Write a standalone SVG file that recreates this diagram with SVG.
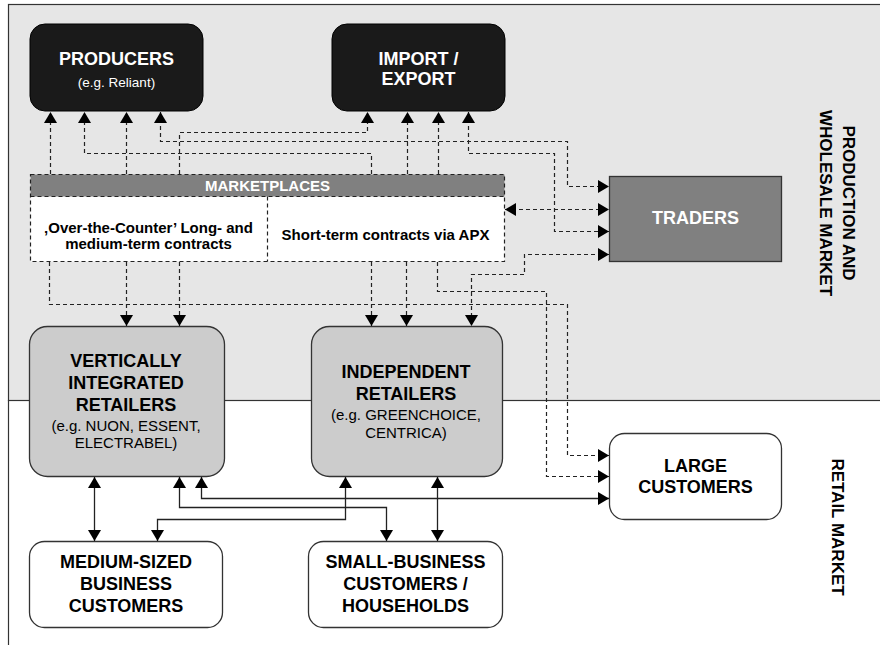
<svg xmlns="http://www.w3.org/2000/svg" width="880" height="645" viewBox="0 0 880 645">
<defs>
<marker id="ah" markerUnits="userSpaceOnUse" markerWidth="12" markerHeight="14" refX="11" refY="6.5" orient="auto-start-reverse">
<path d="M0,0 L11,6.5 L0,13 z" fill="#000"/>
</marker>
</defs>
<style>
text{font-family:"Liberation Sans",Arial,sans-serif;text-anchor:middle;fill:#000}
.t{font-size:18px;font-weight:bold}
.s{font-size:15px}
.w{fill:#fff}
.m{font-size:15px;font-weight:bold}
.v{font-size:17px;font-weight:bold}
.dash{fill:none;stroke:#222;stroke-width:1.2;stroke-dasharray:4,3}
.sol{fill:none;stroke:#222;stroke-width:1.3}
.bx{stroke:#333;stroke-width:1.3}
</style>
<rect x="0" y="0" width="880" height="645" fill="#fff"/>
<g id="background">
<rect x="8.5" y="4.5" width="880" height="396" fill="#e6e6e6" stroke="#333" stroke-width="1.2"/>
<line x1="8.5" y1="400" x2="8.5" y2="645" stroke="#333" stroke-width="1.2"/>
</g>
<g id="labels">
<text class="v" transform="translate(843,203) rotate(90)">PRODUCTION AND</text>
<text class="v" transform="translate(820,203) rotate(90)">WHOLESALE MARKET</text>
<text class="v" transform="translate(832,527) rotate(90)">RETAIL MARKET</text>
</g>
<g id="producers">
<rect x="30" y="24" width="173" height="87" rx="15" fill="#1a1a1a" stroke="#000"/>
<text class="t w" x="116.5" y="65">PRODUCERS</text>
<text class="w" x="116.5" y="87" font-size="13.5">(e.g. Reliant)</text>
</g>
<g id="import-export">
<rect x="332" y="24" width="173" height="87" rx="15" fill="#1a1a1a" stroke="#000"/>
<text class="t w" x="418.5" y="65">IMPORT /</text>
<text class="t w" x="418.5" y="85">EXPORT</text>
</g>
<g id="marketplaces">
<rect x="30.5" y="174.5" width="474" height="87" fill="#fff"/>
<rect x="30.5" y="174.5" width="474" height="22" fill="#808080"/>
<rect x="30.5" y="174.5" width="474" height="87" class="dash"/>
<line x1="30.5" y1="196.5" x2="504.5" y2="196.5" class="dash"/>
<line x1="267.5" y1="196.5" x2="267.5" y2="261.5" class="dash"/>
<text class="w" x="267.5" y="191" font-size="15" font-weight="bold">MARKETPLACES</text>
<text class="m" x="148.5" y="233">‚Over-the-Counter’ Long- and</text>
<text class="m" x="148.5" y="249">medium-term contracts</text>
<text class="m" x="385.5" y="240">Short-term contracts via APX</text>
</g>
<g id="traders">
<rect x="609.5" y="176.5" width="172" height="85" fill="#808080" stroke="#333" stroke-width="1.3"/>
<text class="t w" x="695.5" y="224">TRADERS</text>
</g>
<g id="vertically-integrated">
<rect x="29.5" y="326.5" width="195" height="150" rx="18" fill="#ccc" class="bx"/>
<text class="t" x="126" y="367">VERTICALLY</text>
<text class="t" x="126" y="389">INTEGRATED</text>
<text class="t" x="126" y="411">RETAILERS</text>
<text class="s" x="126" y="430.5">(e.g. NUON, ESSENT,</text>
<text class="s" x="126" y="448">ELECTRABEL)</text>
</g>
<g id="independent">
<rect x="311.5" y="326.5" width="191" height="150" rx="18" fill="#ccc" class="bx"/>
<text class="t" x="406" y="378">INDEPENDENT</text>
<text class="t" x="406" y="400">RETAILERS</text>
<text class="s" x="406" y="420">(e.g. GREENCHOICE,</text>
<text class="s" x="406" y="437.5">CENTRICA)</text>
</g>
<g id="large-customers">
<rect x="609.5" y="433.5" width="172" height="86" rx="15" fill="#fff" class="bx"/>
<text class="t" x="695.5" y="471.5">LARGE</text>
<text class="t" x="695.5" y="493">CUSTOMERS</text>
</g>
<g id="medium-business">
<rect x="29.5" y="541.5" width="193" height="86" rx="15" fill="#fff" class="bx"/>
<text class="t" x="126" y="568">MEDIUM-SIZED</text>
<text class="t" x="126" y="590">BUSINESS</text>
<text class="t" x="126" y="612">CUSTOMERS</text>
</g>
<g id="small-business">
<rect x="308.5" y="541.5" width="194" height="86" rx="15" fill="#fff" class="bx"/>
<text class="t" x="405.5" y="568">SMALL-BUSINESS</text>
<text class="t" x="405.5" y="590">CUSTOMERS /</text>
<text class="t" x="405.5" y="612">HOUSEHOLDS</text>
</g>
<g id="connectors">
<path class="dash" d="M50.5,174 V112" marker-end="url(#ah)"/>
<path class="dash" d="M126.5,174 V112" marker-end="url(#ah)"/>
<path class="dash" d="M371.5,174 V153.5 H84.5 V112" marker-end="url(#ah)"/>
<path class="dash" d="M160.5,112 V141.5 H567.5 V186.5 H609" marker-start="url(#ah)" marker-end="url(#ah)"/>
<path class="dash" d="M179.5,174 V132.5 H367.5 V112" marker-end="url(#ah)"/>
<path class="dash" d="M407.5,174 V112" marker-end="url(#ah)"/>
<path class="dash" d="M438.5,174 V112" marker-end="url(#ah)"/>
<path class="dash" d="M468.5,112 V153.5 H554.5 V231.5 H609" marker-start="url(#ah)" marker-end="url(#ah)"/>
<path class="dash" d="M505,209.5 H609" marker-start="url(#ah)" marker-end="url(#ah)"/>
<path class="dash" d="M609,254.5 H524.5 V274.5 H471.5 V326" marker-start="url(#ah)" marker-end="url(#ah)"/>
<path class="dash" d="M126.5,262 V326" marker-end="url(#ah)"/>
<path class="dash" d="M179.5,262 V326" marker-end="url(#ah)"/>
<path class="dash" d="M371.5,262 V326" marker-end="url(#ah)"/>
<path class="dash" d="M406.5,262 V326" marker-end="url(#ah)"/>
<path class="dash" d="M49.5,262 V304.5 H567.5 V455.5 H609" marker-end="url(#ah)"/>
<path class="dash" d="M437.5,262 V291.5 H546.5 V476.5 H609" marker-end="url(#ah)"/>
<path class="sol" d="M94.5,477 V541" marker-start="url(#ah)" marker-end="url(#ah)"/>
<path class="sol" d="M179.5,477 V507.5 H386.5 V541" marker-start="url(#ah)" marker-end="url(#ah)"/>
<path class="sol" d="M201.5,477 V498.5 H609" marker-start="url(#ah)" marker-end="url(#ah)"/>
<path class="sol" d="M345.5,477 V519.5 H157.5 V541" marker-start="url(#ah)" marker-end="url(#ah)"/>
<path class="sol" d="M437.5,477 V541" marker-start="url(#ah)" marker-end="url(#ah)"/>
</g>
</svg>
